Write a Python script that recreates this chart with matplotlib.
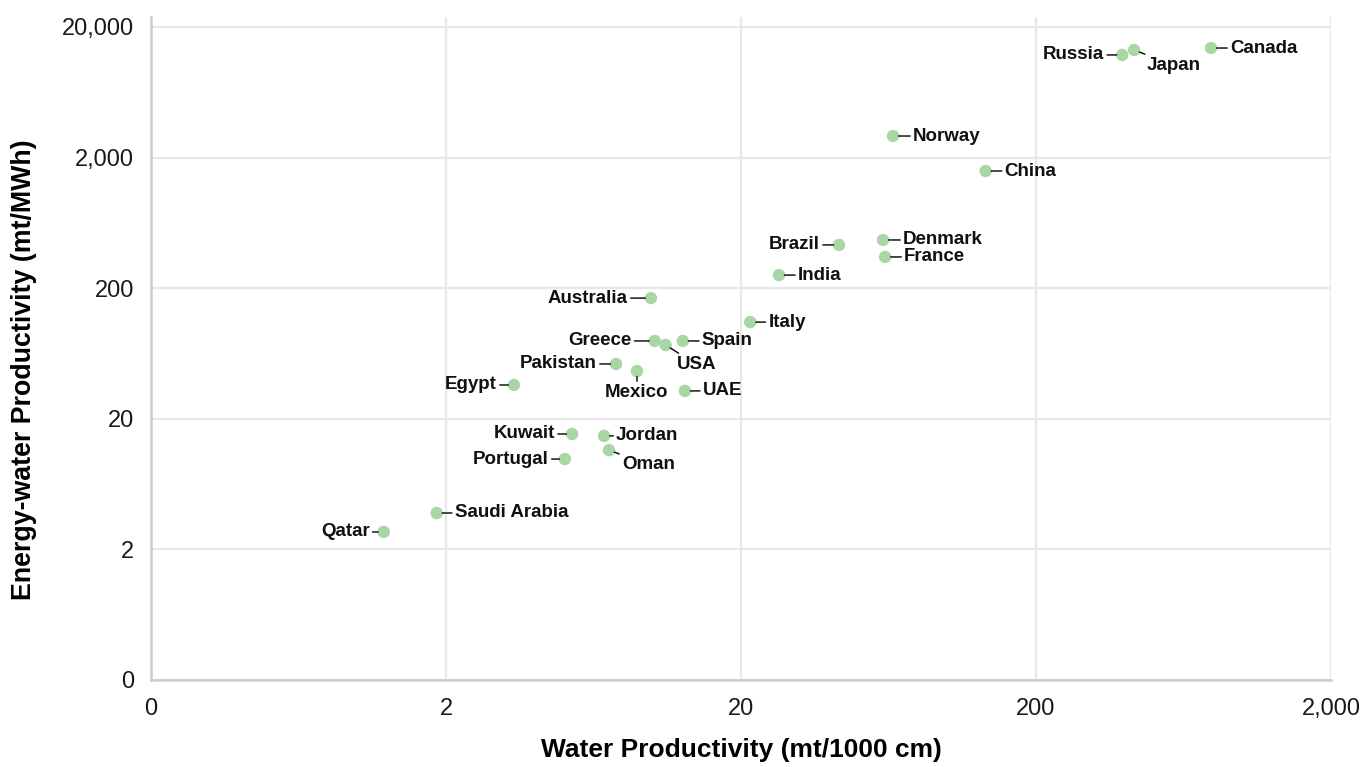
import matplotlib
matplotlib.use("Agg")
import matplotlib.pyplot as plt
from matplotlib.ticker import FixedLocator, FixedFormatter, NullLocator

plt.rcParams['font.family'] = ['Liberation Sans', 'DejaVu Sans']

# Country-level productivity figures
countries = ["Qatar", "Saudi Arabia", "Portugal", "Kuwait", "Jordan", "Oman",
             "Egypt", "Pakistan", "Mexico", "Greece", "USA", "Spain", "UAE",
             "Australia", "Italy", "India", "Brazil", "Denmark", "France",
             "Norway", "China", "Russia", "Japan", "Canada"]
water_productivity = [1.23, 1.86, 5.06, 5.35, 6.87, 7.14,
                      3.40, 7.54, 8.88, 10.2, 11.1, 12.7, 12.9,
                      9.9, 21.5, 26.9, 43.0, 60.6, 61.6,
                      65.5, 135, 392, 430, 784]
energy_water_productivity = [2.72, 3.8, 9.84, 15.3, 14.8, 11.5,
                             36.3, 52.6, 46.4, 78.9, 73.5, 78.9, 32.7,
                             168, 110, 252, 429, 468, 347,
                             2926, 1579, 12218, 13336, 13806]

x_ticks = [0.2, 2, 20, 200, 2000]
x_tick_labels = ["0", "2", "20", "200", "2,000"]
y_ticks = [0.2, 2, 20, 200, 2000, 20000]
y_tick_labels = ["0", "2", "20", "200", "2,000", "20,000"]

# Where each label sits relative to its marker (pixel offsets at 100 dpi)
label_side = {
    "Qatar": ("left", 14), "Saudi Arabia": ("right", 18), "Portugal": ("left", 16),
    "Kuwait": ("left", 17), "Jordan": ("right", 12), "Egypt": ("left", 17),
    "Pakistan": ("left", 19), "Greece": ("left", 23), "Spain": ("right", 19),
    "UAE": ("right", 18), "Australia": ("left", 23), "Italy": ("right", 18),
    "India": ("right", 19), "Brazil": ("left", 19), "Denmark": ("right", 20),
    "France": ("right", 19), "Norway": ("right", 20), "China": ("right", 19),
    "Russia": ("left", 18), "Canada": ("right", 19),
    "Mexico": ("below", (0, -13)), "USA": ("diag", (11, -11)),
    "Oman": ("diag", (13, -6)), "Japan": ("diag", (13, -7)),
}

fig = plt.figure(figsize=(13.7, 7.67), dpi=100)
ax = fig.add_axes([151 / 1370, 1 - 680 / 767, (1331 - 151) / 1370, (680 - 17) / 767])

ax.set_xscale("log")
ax.set_yscale("log")
ax.set_xlim(0.2, 2000)
ax.set_ylim(0.2, 0.2 * 10 ** ((680 - 17) / 130.6))

ax.scatter(water_productivity, energy_water_productivity, s=80,
           color="#a9d6a5", edgecolors="none", zorder=3)

px = 0.72  # points per pixel
label_font = dict(fontsize=13.5, fontweight="bold", color="#111111")
for name, xv, yv in zip(countries, water_productivity, energy_water_productivity):
    side, off = label_side[name]
    arrow = dict(arrowstyle="-", color="black", lw=1.0, shrinkA=0.0, shrinkB=4.0)
    if side == "left":
        dxy, ha, va = (-off * px, 0), "right", "center"
    elif side == "right":
        dxy, ha, va = (off * px, 0), "left", "center"
    elif side == "below":
        dxy, ha, va = (off[0] * px, off[1] * px), "center", "top"
    else:
        dxy, ha, va = (off[0] * px, off[1] * px), "left", "top"
    ax.annotate(name, (xv, yv), xytext=dxy, textcoords="offset points",
                ha=ha, va=va, arrowprops=arrow, zorder=4, **label_font)

ax.xaxis.set_major_locator(FixedLocator(x_ticks))
ax.xaxis.set_major_formatter(FixedFormatter(x_tick_labels))
ax.xaxis.set_minor_locator(NullLocator())
ax.yaxis.set_major_locator(FixedLocator(y_ticks))
ax.yaxis.set_major_formatter(FixedFormatter(y_tick_labels))
ax.yaxis.set_minor_locator(NullLocator())

ax.grid(True, color="#e8e8e8", lw=1.6, zorder=0)
ax.set_axisbelow(True)
ax.tick_params(length=0, labelsize=17, colors="#1a1a1a")
ax.tick_params(axis="y", pad=12)
ax.tick_params(axis="x", pad=13)

for s in ["top", "right"]:
    ax.spines[s].set_visible(False)
for s in ["left", "bottom"]:
    ax.spines[s].set_color("#cccccc")
    ax.spines[s].set_linewidth(1.8)

ax.set_xlabel("Water Productivity (mt/1000 cm)", fontsize=19, fontweight="bold", va="center")
ax.set_ylabel("Energy-water Productivity (mt/MWh)", fontsize=19.3, fontweight="bold", va="center")
ax.xaxis.set_label_coords(0.5, (680 - 750) / 663)
ax.yaxis.set_label_coords((24 - 151) / 1180, (680 - 370) / 663)

fig.savefig("out.png", dpi=100)
